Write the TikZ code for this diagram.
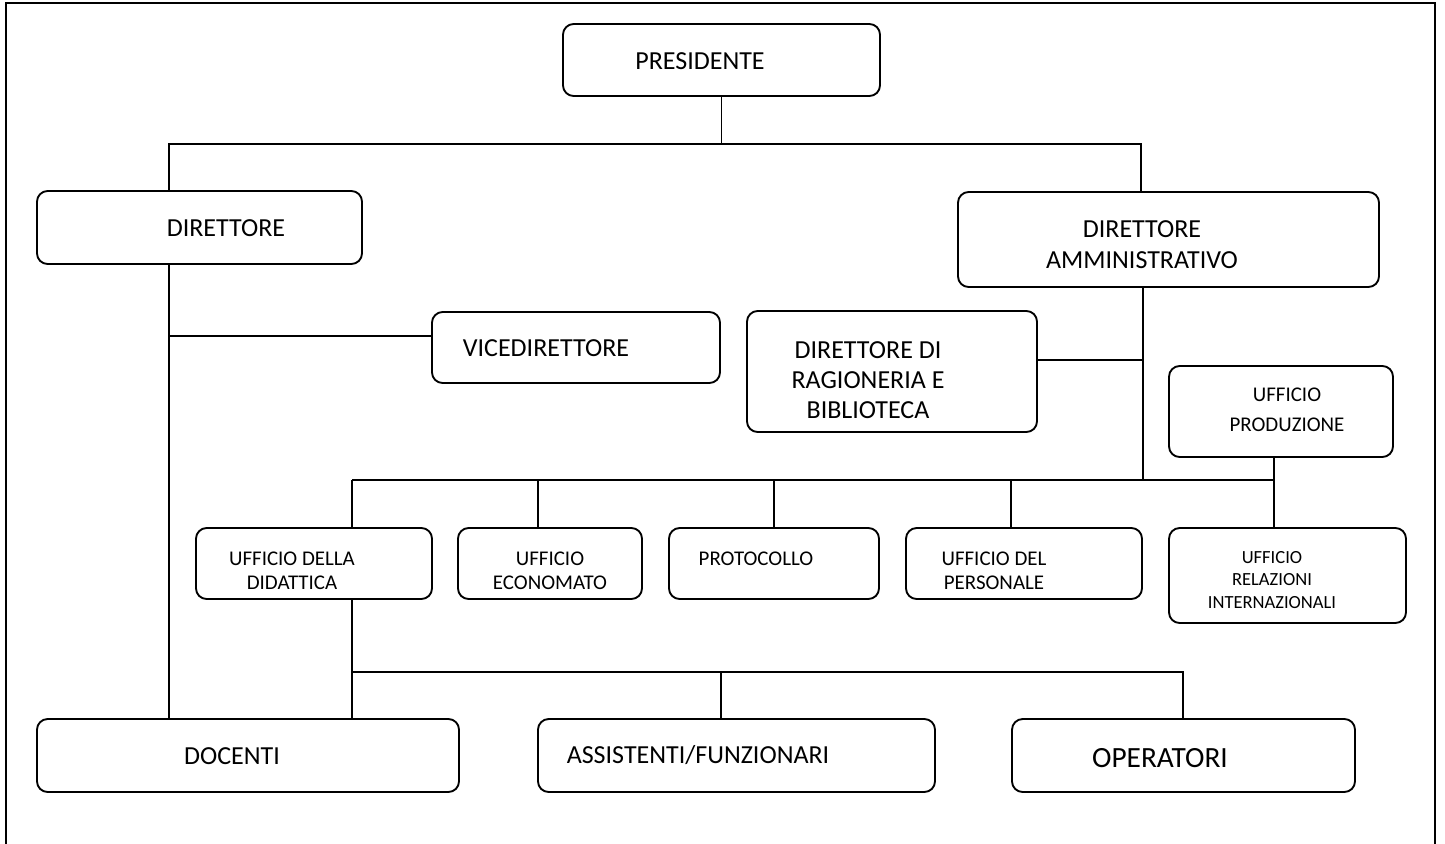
\documentclass[tikz,border=0pt]{standalone}
\usepackage{fontspec}
\setmainfont{Carlito}
\newcommand\bx[5]{\node[box, minimum width={(#4-#2)*0.75pt}, minimum height={(#5-#3)*0.75pt}] (#1) at ({(#2+#4)/2},{(#3+#5)/2}) {};}
\tikzset{
  box/.style={draw, line width=1.4pt, rounded corners=8pt, inner sep=0pt},
  conn/.style={line width=1.4pt},
  big/.style={font=\fontsize{19.5}{23}\selectfont, align=center, inner sep=0pt},
  mid/.style={font=\fontsize{15.7}{18}\selectfont, align=center, inner sep=0pt},
  sml/.style={font=\fontsize{13.9}{16.8}\selectfont, align=center, inner sep=0pt},
  huge/.style={font=\fontsize{22}{26}\selectfont, align=center, inner sep=0pt},
}
\begin{document}
\begin{tikzpicture}[x=0.75pt, y=-0.75pt]
\useasboundingbox (0,0) rectangle (1445,843);
\draw[line width=1.4pt] (6,845) -- (6,3) -- (1435,3) -- (1435,845);
% boxes
\bx{pres}{563}{24}{880}{96}
\bx{dir}{37}{191}{362}{264}
\bx{damm}{958}{192}{1379}{287}
\bx{vice}{432}{312}{720}{383}
\bx{rag}{747}{311}{1037}{432}
\bx{prod}{1169}{366}{1393}{457}
\bx{did}{196}{528}{432}{599}
\bx{eco}{458}{528}{642}{599}
\bx{prot}{669}{528}{879}{599}
\bx{pers}{906}{528}{1142}{599}
\bx{rel}{1169}{528}{1406}{623}
\bx{doc}{37}{719}{459}{792}
\bx{ass}{538}{719}{935}{792}
\bx{op}{1012}{719}{1355}{792}
% texts
\node[big] (tpres) at (700,61) {PRESIDENTE};
\node[big] (tdir) at (226,228) {DIRETTORE};
\node[big, font=\fontsize{19.5}{23.2}\selectfont] (tdamm) at (1142,245) {DIRETTORE\\AMMINISTRATIVO};
\node[big] (tvice) at (546,348) {VICEDIRETTORE};
\node[big, font=\fontsize{19.5}{22.5}\selectfont] (trag) at (868,380) {DIRETTORE DI\\RAGIONERIA E\\BIBLIOTECA};
\node[mid, font=\fontsize{15.7}{22.5}\selectfont] (tprod) at (1287,410) {UFFICIO\\PRODUZIONE};
\node[mid] (tdid) at (292,571) {UFFICIO DELLA\\DIDATTICA};
\node[mid] (teco) at (550,571) {UFFICIO\\ECONOMATO};
\node[mid] (tprot) at (756,559) {PROTOCOLLO};
\node[mid] (tpers) at (994,571) {UFFICIO DEL\\PERSONALE};
\node[sml] (trel) at (1272,580) {UFFICIO\\RELAZIONI\\INTERNAZIONALI};
\node[big] (tdoc) at (232,756) {DOCENTI};
\node[big] (tass) at (698,755) {ASSISTENTI/FUNZIONARI};
\node[huge] (top) at (1160,758) {OPERATORI};
% connector coordinates
\coordinate (b1) at (169,144);
\coordinate (b2) at (1141,144);
\coordinate (v1) at (169,336);
\coordinate (r1) at (1143,360);
\coordinate (v2) at (1143,480);
\coordinate (b3) at (352,480);
\coordinate (b4) at (1274,480);
\coordinate (d2) at (538,480);
\coordinate (d3) at (774,480);
\coordinate (d4) at (1011,480);
\coordinate (b5) at (352,672);
\coordinate (b6) at (1183,672);
\coordinate (d5) at (721,672);
% connectors
\draw[conn] (pres.south) -- (pres.south |- b1);
\draw[conn] (dir.north -| b1) -- (b1) -- (b2) -- (damm.north -| b2);
\draw[conn] (dir.south -| v1) -- (doc.north -| v1);
\draw[conn] (v1) -- (vice.west |- v1);
\draw[conn] (damm.south -| v2) -- (v2);
\draw[conn] (rag.east |- r1) -- (r1);
\draw[conn] (b3) -- (b4);
\draw[conn] (b3) -- (did.north -| b3);
\draw[conn] (d2) -- (eco.north -| d2);
\draw[conn] (d3) -- (prot.north -| d3);
\draw[conn] (d4) -- (pers.north -| d4);
\draw[conn] (prod.south -| b4) -- (rel.north -| b4);
\draw[conn] (did.south -| b5) -- (doc.north -| b5);
\draw[conn] (b5) -- (b6) -- (op.north -| b6);
\draw[conn] (d5) -- (ass.north -| d5);
\end{tikzpicture}
\end{document}
